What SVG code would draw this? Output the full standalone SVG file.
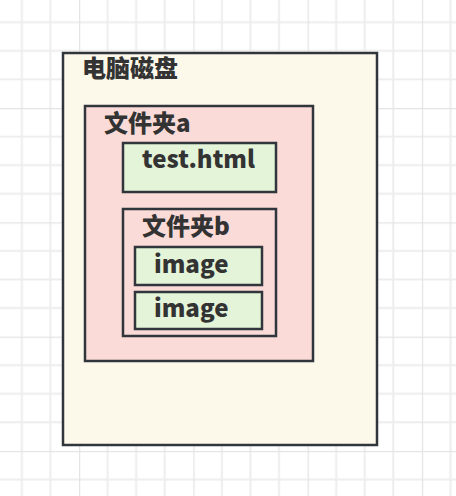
<svg xmlns="http://www.w3.org/2000/svg" width="456" height="496" viewBox="0 0 456 496">
  <defs>
    <pattern id="grid" patternUnits="userSpaceOnUse" x="79" y="108" width="114.3" height="114.3">
      <path d="M28.575 0V114.3M57.15 0V114.3M85.725 0V114.3M0 28.575H114.3M0 57.15H114.3M0 85.725H114.3" stroke="#ededed" stroke-width="2" fill="none"/>
      <path d="M0 0V114.3M0 0H114.3" stroke="#e4e4e4" stroke-width="2.5" fill="none"/>
    </pattern>
    <style>
      .box{stroke:#30363b;stroke-width:2.5}
      .disk{fill:#fcf8ea}
      .folder{fill:#fadbd8}
      .file{fill:#e4f4d8}
      .sub{fill:none}
      text{font-family:"Noto Sans CJK SC","Noto Sans",sans-serif;font-weight:900;fill:#333333;font-size:24px}
    </style>
  </defs>
  <rect width="456" height="496" fill="#ffffff"/>
  <rect width="456" height="496" fill="url(#grid)"/>
  <g id="disk">
    <rect class="box disk" x="63" y="53" width="314" height="392"/>
    <text x="82" y="77">电脑磁盘</text>
  </g>
  <g id="folder-a">
    <rect class="box folder" x="85" y="106" width="228" height="255"/>
    <text x="104" y="132">文件夹a</text>
  </g>
  <g id="test-html">
    <rect class="box file" x="123" y="143" width="153" height="49"/>
    <text x="142" y="168">test.html</text>
  </g>
  <g id="folder-b">
    <rect class="box sub" x="123" y="209" width="153" height="127"/>
    <text x="142" y="235">文件夹b</text>
  </g>
  <g id="image-1">
    <rect class="box file" x="135" y="247" width="127" height="38"/>
    <text x="154" y="273">image</text>
  </g>
  <g id="image-2">
    <rect class="box file" x="135" y="292" width="127" height="37"/>
    <text x="154" y="317">image</text>
  </g>
  <g id="connectors"/>
</svg>
